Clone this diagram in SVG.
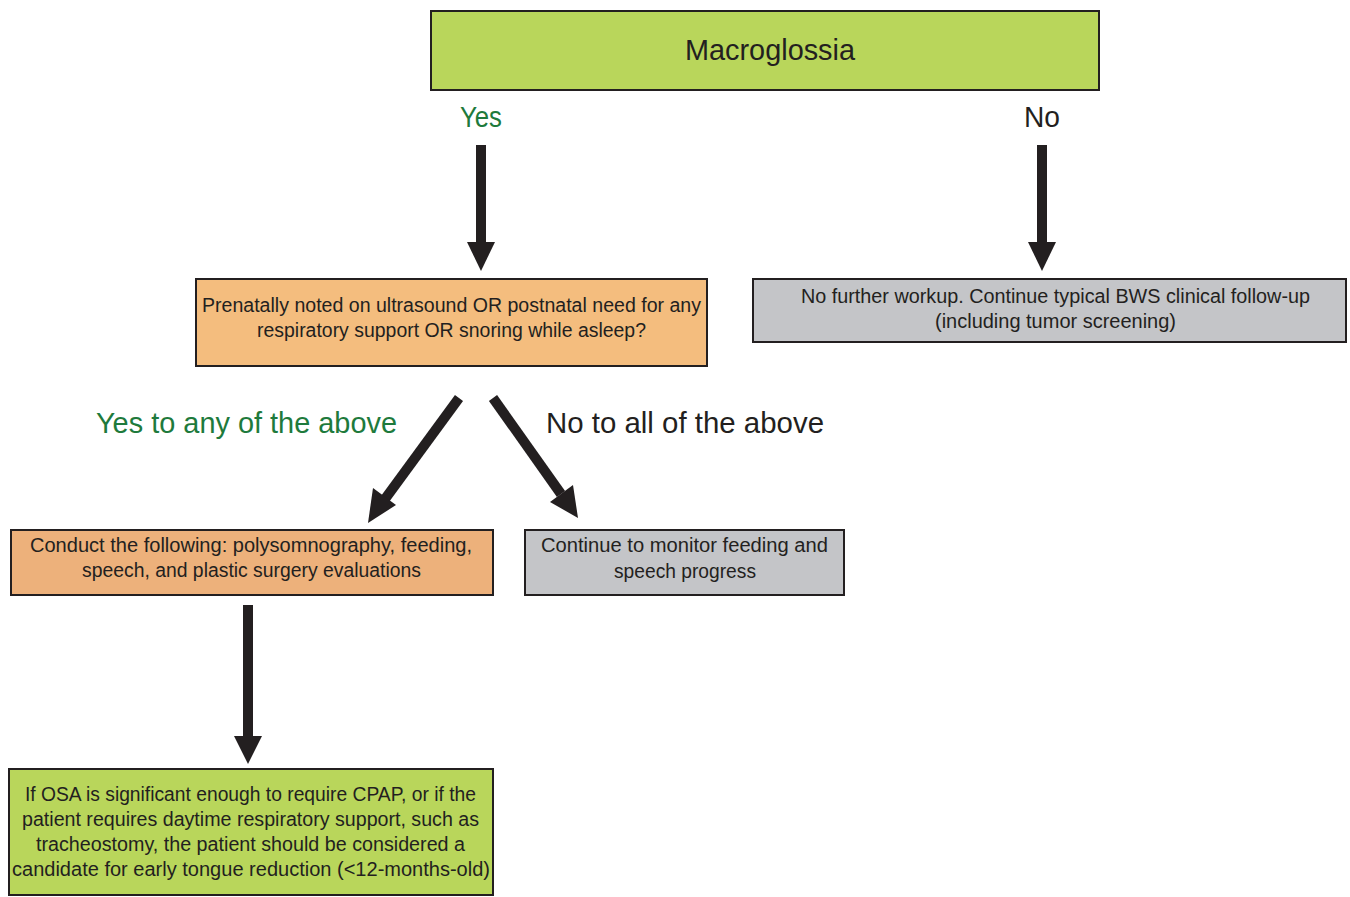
<svg xmlns="http://www.w3.org/2000/svg" width="1350" height="897" viewBox="0 0 1350 897">
<style>
.box{stroke:#231f20;stroke-width:2}
.green{fill:#b9d65b}
.orange{fill:#f4bd7e}
.gray{fill:#c4c5c8}
text{font-family:"Liberation Sans",Arial,sans-serif;fill:#231f20;text-anchor:middle}
.t{font-size:20px}
.lbl{font-size:30px}
.g{fill:#1e7a3c}
.conn line{stroke:#231f20;stroke-width:10}
.conn polygon{fill:#231f20}
</style>
<rect width="1350" height="897" fill="#fff"/>
<g id="macroglossia">
<rect class="box green" x="431" y="11" width="668" height="79"/>
<text x="770" y="60" style="font-size:30px" textLength="170" lengthAdjust="spacingAndGlyphs">Macroglossia</text>
</g>
<g id="prenatal">
<rect class="box orange" x="196" y="279" width="511" height="87"/>
<text class="t" x="451.5" y="312" textLength="499" lengthAdjust="spacingAndGlyphs">Prenatally noted on ultrasound OR postnatal need for any</text>
<text class="t" x="451.5" y="337" textLength="389" lengthAdjust="spacingAndGlyphs">respiratory support OR snoring while asleep?</text>
</g>
<g id="nofurther">
<rect class="box gray" x="753" y="279" width="593" height="63"/>
<text class="t" x="1055.5" y="303" textLength="509" lengthAdjust="spacingAndGlyphs">No further workup. Continue typical BWS clinical follow-up</text>
<text class="t" x="1055.5" y="328" textLength="241" lengthAdjust="spacingAndGlyphs">(including tumor screening)</text>
</g>
<g id="conduct">
<rect class="box" style="fill:#edb17b" x="11" y="530" width="482" height="65"/>
<text class="t" x="251" y="552" textLength="442" lengthAdjust="spacingAndGlyphs">Conduct the following: polysomnography, feeding,</text>
<text class="t" x="251.5" y="577" textLength="339" lengthAdjust="spacingAndGlyphs">speech, and plastic surgery evaluations</text>
</g>
<g id="continue">
<rect class="box gray" x="525" y="530" width="319" height="65"/>
<text class="t" x="684.5" y="552" textLength="287" lengthAdjust="spacingAndGlyphs">Continue to monitor feeding and</text>
<text class="t" x="685" y="578" textLength="142" lengthAdjust="spacingAndGlyphs">speech progress</text>
</g>
<g id="osa">
<rect class="box green" x="9" y="769" width="484" height="126"/>
<text class="t" x="250.5" y="801" textLength="451" lengthAdjust="spacingAndGlyphs">If OSA is significant enough to require CPAP, or if the</text>
<text class="t" x="250.5" y="826" textLength="457" lengthAdjust="spacingAndGlyphs">patient requires daytime respiratory support, such as</text>
<text class="t" x="250.5" y="851" textLength="429" lengthAdjust="spacingAndGlyphs">tracheostomy, the patient should be considered a</text>
<text class="t" x="251" y="876" textLength="478" lengthAdjust="spacingAndGlyphs">candidate for early tongue reduction (&lt;12-months-old)</text>
</g>
<g id="labels">
<text class="lbl g" x="481" y="127" textLength="42" lengthAdjust="spacingAndGlyphs">Yes</text>
<text class="lbl" x="1042" y="127" textLength="36" lengthAdjust="spacingAndGlyphs">No</text>
<text class="lbl g" x="246.5" y="433" textLength="301" lengthAdjust="spacingAndGlyphs">Yes to any of the above</text>
<text class="lbl" x="685" y="433" textLength="278" lengthAdjust="spacingAndGlyphs">No to all of the above</text>
</g>
<g id="connectors" class="conn">
<line x1="481" y1="145" x2="481" y2="244"/>
<polygon points="467,242 495,242 481,271"/>
<line x1="1042" y1="145" x2="1042" y2="244"/>
<polygon points="1028,242 1056,242 1042,271"/>
<line x1="459" y1="398" x2="385" y2="499"/>
<polygon points="373,488 396,505 368,523"/>
<line x1="493" y1="398" x2="561" y2="494"/>
<polygon points="550,502 573,485 578,518"/>
<line x1="248" y1="605" x2="248" y2="738"/>
<polygon points="234,736 262,736 248,764"/>
</g>
</svg>
